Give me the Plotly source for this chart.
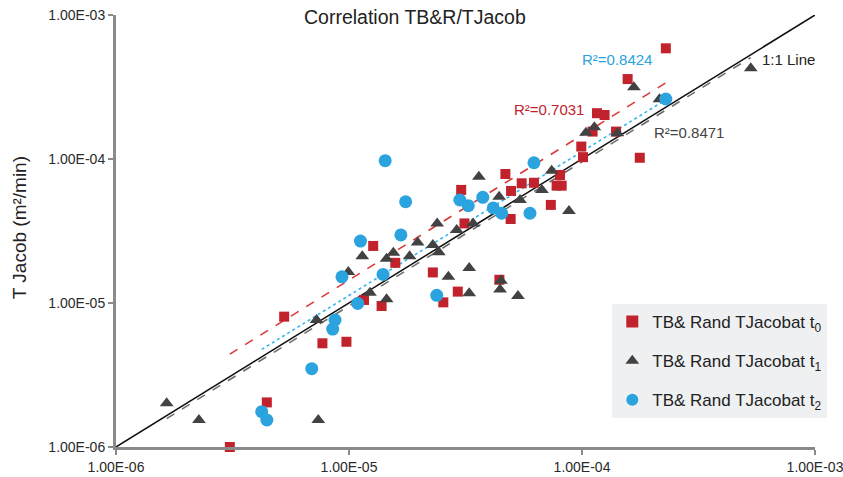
import numpy as np
import plotly.graph_objects as go

# ---- data (T TB&R on x, T Jacob on y, m2/min) ----
t0_x = [2.29e-4, 1.57e-4, 1.16e-4, 1.25e-4, 1.11e-4, 1.40e-4, 9.93e-5, 1.01e-4, 1.77e-4,
        4.69e-5, 3.03e-5, 5.51e-5, 6.22e-5, 8.05e-5, 7.78e-5, 8.18e-5, 4.96e-5, 7.35e-5,
        4.94e-5, 3.13e-5, 1.27e-5, 1.58e-5, 2.29e-5, 2.93e-5, 2.54e-5, 4.42e-5, 1.16e-5,
        1.38e-5, 5.27e-6, 7.69e-6, 9.75e-6, 4.44e-6, 3.08e-6]
t0_y = [5.87e-4, 3.59e-4, 2.08e-4, 2.02e-4, 1.55e-4, 1.55e-4, 1.22e-4, 1.03e-4, 1.02e-4,
        7.87e-5, 6.10e-5, 6.78e-5, 6.84e-5, 7.74e-5, 6.53e-5, 6.53e-5, 6.00e-5, 4.80e-5,
        3.83e-5, 3.57e-5, 2.49e-5, 1.90e-5, 1.63e-5, 1.20e-5, 1.01e-5, 1.45e-5, 1.05e-5,
        9.53e-6, 8.04e-6, 5.25e-6, 5.38e-6, 2.04e-6, 1.00e-6]

t1_x = [2.15e-4, 1.67e-4, 5.30e-4, 1.04e-4, 1.13e-4, 1.42e-4, 3.61e-5, 7.41e-5, 6.73e-5,
        5.42e-5, 4.41e-5, 8.79e-5, 2.39e-5, 3.41e-5, 2.90e-5, 1.97e-5, 2.29e-5, 2.43e-5,
        1.55e-5, 1.45e-5, 1.82e-5, 1.14e-5, 9.93e-6, 3.28e-5, 2.67e-5, 4.49e-5, 4.45e-5,
        5.31e-5, 3.28e-5, 1.23e-5, 1.45e-5, 7.26e-6, 1.65e-6, 2.27e-6, 7.38e-6]
t1_y = [2.60e-4, 3.15e-4, 4.26e-4, 1.52e-4, 1.66e-4, 1.51e-4, 7.53e-5, 8.30e-5, 6.10e-5,
        5.19e-5, 5.47e-5, 4.35e-5, 3.57e-5, 3.57e-5, 3.21e-5, 2.63e-5, 2.53e-5, 2.25e-5,
        2.23e-5, 2.03e-5, 2.11e-5, 2.11e-5, 1.64e-5, 1.75e-5, 1.52e-5, 1.43e-5, 1.24e-5,
        1.12e-5, 1.17e-5, 1.18e-5, 1.06e-5, 7.62e-6, 2.01e-6, 1.54e-6, 1.54e-6]

t2_x = [2.29e-4, 6.22e-5, 1.43e-5, 2.99e-5, 3.25e-5, 3.75e-5, 1.75e-5, 4.16e-5, 4.52e-5,
        5.98e-5, 1.67e-5, 1.12e-5, 9.33e-6, 1.40e-5, 2.38e-5, 1.09e-5, 8.71e-6, 8.51e-6,
        6.92e-6, 4.22e-6, 4.44e-6]
t2_y = [2.61e-4, 9.42e-5, 9.73e-5, 5.19e-5, 4.74e-5, 5.42e-5, 5.05e-5, 4.57e-5, 4.20e-5,
        4.20e-5, 2.97e-5, 2.69e-5, 1.52e-5, 1.58e-5, 1.13e-5, 9.93e-6, 7.62e-6, 6.59e-6,
        3.50e-6, 1.76e-6, 1.54e-6]

# power trendlines y = a * x^b
trend_a = {"t0": 1.56, "t1": 0.955, "t2": 1.12}
trend_b = {"t0": 1.0067, "t1": 1.0, "t2": 0.9994}
r2_labels = {"t0": "R²=0.7031", "t1": "R²=0.8471", "t2": "R²=0.8424"}

one_to_one = [1e-6, 1e-3]
tick_vals = [1e-6, 1e-5, 1e-4, 1e-3]
tick_text = ["1.00E-06", "1.00E-05", "1.00E-04", "1.00E-03"]
ytick_text = ["1.00E-06", "1.00E-05", "1.00E-04", "1.00E-03"]

RED = "#c1222b"
GREY = "#424242"
BLUE = "#2aa3de"
FONT = "Liberation Sans, Arial, sans-serif"

fig = go.Figure()

def trend(xs, key):
    xe = np.array([min(xs), max(xs)])
    return xe, trend_a[key] * xe ** trend_b[key]

# 1:1 line
fig.add_trace(go.Scatter(x=one_to_one, y=one_to_one, mode="lines",
                         line=dict(color="#111111", width=1.5), showlegend=False,
                         hoverinfo="skip"))
# trend lines
for key, xs, col, dash in [("t1", t1_x, "#6e6e6e", "dash"),
                           ("t2", t2_x, "#33b5ee", "dot"),
                           ("t0", t0_x, "#d93a3a", "dash")]:
    tx, ty = trend(xs, key)
    fig.add_trace(go.Scatter(x=tx, y=ty, mode="lines",
                             line=dict(color=col, width=1.6, dash=dash),
                             showlegend=False, hoverinfo="skip"))

fig.add_trace(go.Scatter(x=t0_x, y=t0_y, mode="markers", name="TB& Rand TJacobat t<sub>0</sub>",
                         legendgroup="a", cliponaxis=False,
                         marker=dict(symbol="square", size=10, color=RED,
                                     line=dict(width=0))))
fig.add_trace(go.Scatter(x=t1_x, y=t1_y, mode="markers", name="TB& Rand TJacobat t<sub>1</sub>",
                         legendgroup="b", cliponaxis=False,
                         marker=dict(symbol="triangle-up", size=12, color=GREY,
                                     line=dict(width=0))))
fig.add_trace(go.Scatter(x=t2_x, y=t2_y, mode="markers", name="TB& Rand TJacobat t<sub>2</sub>",
                         legendgroup="c", cliponaxis=False,
                         marker=dict(symbol="circle", size=13, color=BLUE,
                                     line=dict(width=0))))

axis_common = dict(type="log", range=[-6, -3], showgrid=False, zeroline=False,
                   showline=True, linecolor="#8a8a8a", linewidth=3,
                   ticks="outside", ticklen=5, tickwidth=2, tickcolor="#8a8a8a",
                   automargin=False, ticklabeloverflow="allow",
                   tickvals=tick_vals, tickfont=dict(family=FONT, size=14, color="#2a2a2a"))

fig.update_xaxes(**axis_common, ticktext=tick_text)
fig.update_yaxes(**axis_common, ticktext=ytick_text)

annotations = [
    dict(text="Correlation TB&R/TJacob", x=0.428, y=1.0, xref="paper", yref="paper",
         xanchor="center", yanchor="middle", yshift=-2, showarrow=False,
         font=dict(family=FONT, size=19.5, color="#222222")),
    dict(text="T Jacob (m²/min)", x=-0.137, y=0.507, xref="paper", yref="paper",
         textangle=-90, xanchor="center", yanchor="middle", showarrow=False,
         font=dict(family=FONT, size=19, color="#222222")),
    dict(text=r2_labels["t2"], x=-3.850, y=-3.306, xref="x", yref="y", showarrow=False,
         font=dict(family=FONT, size=15, color=BLUE)),
    dict(text=r2_labels["t0"], x=-4.142, y=-3.655, xref="x", yref="y", showarrow=False,
         font=dict(family=FONT, size=15, color=RED)),
    dict(text=r2_labels["t1"], x=-3.539, y=-3.819, xref="x", yref="y", showarrow=False,
         font=dict(family=FONT, size=15, color="#444444")),
    dict(text="1:1 Line", x=-3.113, y=-3.308, xref="x", yref="y", showarrow=False,
         font=dict(family=FONT, size=15, color="#222222")),
]

fig.update_layout(
    width=843, height=477,
    margin=dict(l=116, r=28, t=15, b=30, autoexpand=False),
    plot_bgcolor="white", paper_bgcolor="white",
    annotations=annotations,
    legend=dict(x=0.71, y=0.331, xanchor="left", yanchor="top",
                bgcolor="#eff0f2", borderwidth=0,
                font=dict(family=FONT, size=17, color="#222222"),
                tracegroupgap=14, traceorder="grouped", itemsizing="constant",
                itemwidth=30),
    hovermode=False,
)

fig.write_html("out.html",
               post_script="document.body.style.margin='0';document.body.style.overflow='hidden';")
